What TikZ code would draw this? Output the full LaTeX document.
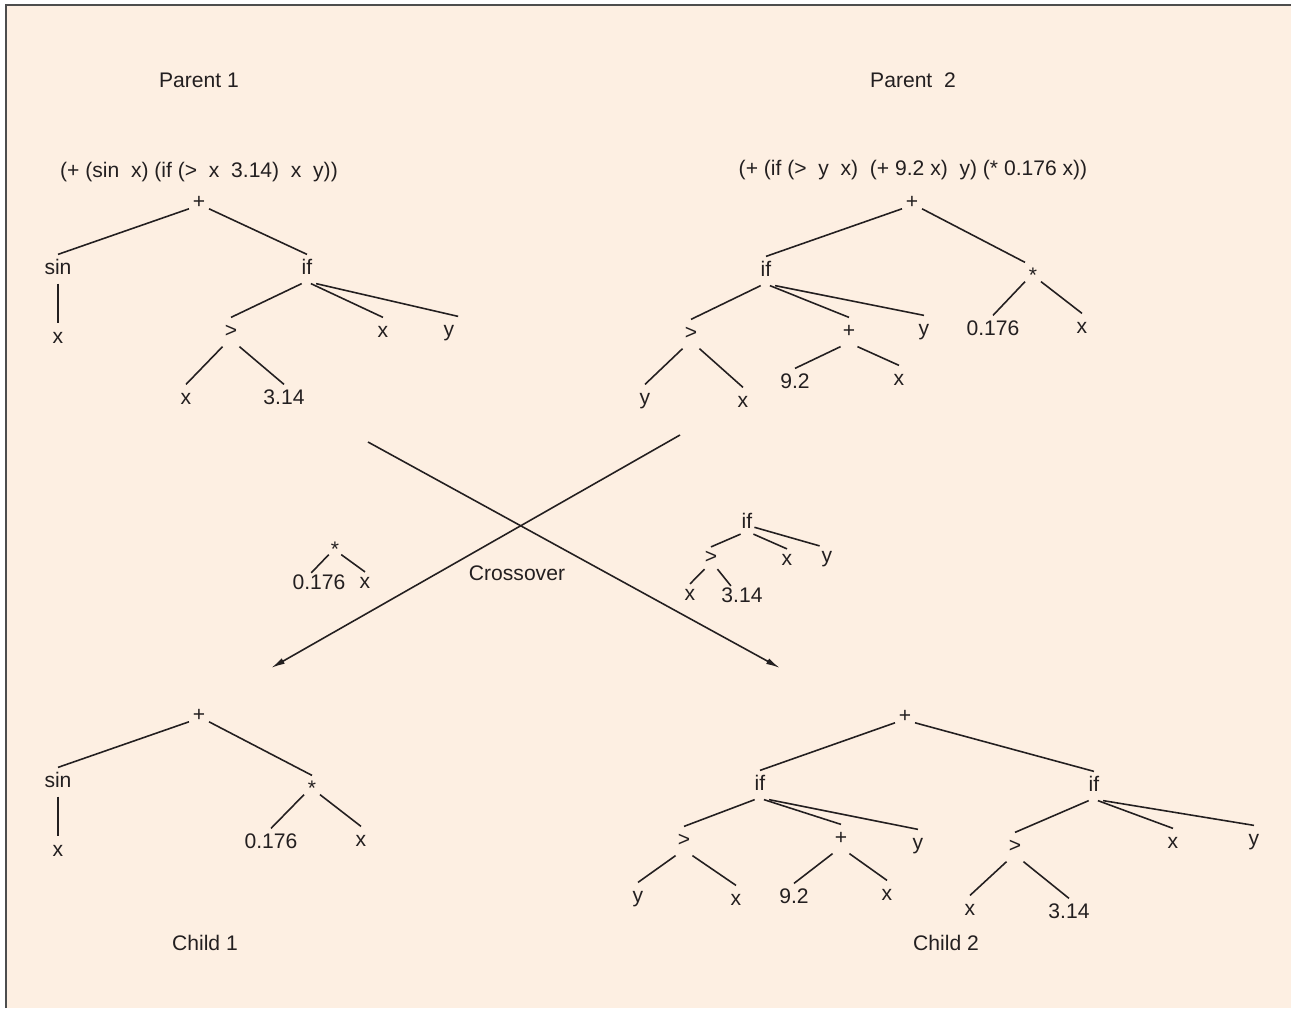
\documentclass[tikz,border=0pt]{standalone}
\usepackage{fontspec}
\setmainfont{Liberation Sans}
\usetikzlibrary{arrows.meta}

\definecolor{paper}{HTML}{FDEFE2}
\definecolor{ink}{HTML}{231F20}
\definecolor{rim}{HTML}{4D4D4D}

\tikzset{
  lbl/.style={text=ink, inner sep=0pt},
  tn/.style={text=ink, inner xsep=2pt, inner ysep=3.5pt, text height=1.5ex, text depth=.25ex},
  tns/.style={tn, inner xsep=1pt, inner ysep=1.5pt},
  br/.style={ink, line width=0.9pt},
  xo/.style={ink, line width=0.9pt, -{Latex[length=8pt,width=3.5pt]}}
}

\begin{document}
\begin{tikzpicture}[x=0.02cm, y=-0.02cm, font=\fontsize{12}{14}\selectfont]
    \useasboundingbox (0,0) rectangle (1291,1008);
    \fill[paper] (6,5) rectangle (1291,1008);
    \draw[rim, line width=1.1pt] (6,1008) -- (6,5) -- (1291,5);

    % first parent
    \node(tp1) at (199,80) [lbl] {Parent 1};
    \node(ex1) at (199,172) [lbl] {(+ (sin~ x) (if (>~ x~ 3.14)~ x~ y))};
    \node(p1p) at (199,203) [tn] {+};
    \node(p1s) at (58,269) [tn] {sin};
    \node(p1sx) at (58,338) [tn] {x};
    \node(p1if) at (307,269) [tn] {if};
    \node(p1g) at (231,332) [tn] {>};
    \node(p1gx) at (186,399) [tn] {x};
    \node(p1gc) at (284,399) [tn] {3.14};
    \node(p1x) at (383,332) [tn] {x};
    \node(p1y) at (449,331) [tn] {y};
    \draw[br] (p1p.-150) -- (p1s.north);
    \draw[br] (p1p.-30) -- (p1if.north);
    \draw[br] (p1s.south) -- (p1sx.north);
    \draw[br] (p1if.-110) -- (p1g.north);
    \draw[br] (p1if.-75) -- (p1x.north);
    \draw[br] (p1if.south east) -- (p1y.north east);
    \draw[br] (p1g.-120) -- (p1gx.north);
    \draw[br] (p1g.-60) -- (p1gc.north);

    % second parent
    \node(tp2) at (913,80) [lbl] {Parent~~2};
    \node(ex2) at (913,170) [lbl] {(+ (if (>~ y~ x)~ (+ 9.2 x)~ y) (* 0.176 x))};
    \node(p2p) at (912,203) [tn] {+};
    \node(p2if) at (766,271) [tn] {if};
    \node(p2m) at (1033,277) [tn] {*};
    \node(p2g) at (691,334) [tn] {>};
    \node(p2gy) at (645,399) [tn] {y};
    \node(p2gx) at (743,402) [tn] {x};
    \node(p2a) at (849,332) [tn] {+};
    \node(p2a9) at (795,383) [tn] {9.2};
    \node(p2ax) at (899,380) [tn] {x};
    \node(p2y) at (924,330) [tn] {y};
    \node(p2m0) at (993,330) [tn] {0.176};
    \node(p2mx) at (1082,328) [tn] {x};
    \draw[br] (p2p.-150) -- (p2if.north);
    \draw[br] (p2p.-30) -- (p2m.north west);
    \draw[br] (p2if.-110) -- (p2g.north);
    \draw[br] (p2if.-75) -- (p2a.north);
    \draw[br] (p2if.south east) -- (p2y.north);
    \draw[br] (p2g.-120) -- (p2gy.north);
    \draw[br] (p2g.-60) -- (p2gx.north);
    \draw[br] (p2a.-120) -- (p2a9.north);
    \draw[br] (p2a.-60) -- (p2ax.north);
    \draw[br] (p2m.-150) -- (p2m0.north);
    \draw[br] (p2m.-30) -- (p2mx.north);

    % swap of the two subtrees
    \coordinate(xa) at (368,442);
    \coordinate(xb) at (780,668);
    \coordinate(ya) at (680,435);
    \coordinate(yb) at (271,668);
    \draw[xo] (xa) -- (xb);
    \draw[xo] (ya) -- (yb);
    \node(xl) at (517,573) [lbl] {Crossover};

    \node(sm) at (335,551) [tns] {*};
    \node(sm0) at (319,584) [tns] {0.176};
    \node(smx) at (365,583) [tns] {x};
    \draw[br] (sm.-150) -- (sm0.125);
    \draw[br] (sm.-30) -- (smx.north);

    \node(si) at (747,523) [tns] {if};
    \node(sg) at (711,558) [tns] {>};
    \node(sgx) at (690,595) [tns] {x};
    \node(sgc) at (742,597) [tns] {3.14};
    \node(six) at (787,560) [tns] {x};
    \node(siy) at (827,557) [tns] {y};
    \draw[br] (si.-120) -- (sg.north);
    \draw[br] (si.-60) -- (six.north);
    \draw[br] (si.-30) -- (siy.north west);
    \draw[br] (sg.-120) -- (sgx.north);
    \draw[br] (sg.-60) -- (sgc.135);

    % first child
    \node(c1p) at (199,716) [tn] {+};
    \node(c1s) at (58,782) [tn] {sin};
    \node(c1sx) at (58,851) [tn] {x};
    \node(c1m) at (312,790) [tn] {*};
    \node(c1m0) at (271,843) [tn] {0.176};
    \node(c1mx) at (361,841) [tn] {x};
    \node(tc1) at (205,943) [lbl] {Child 1};
    \draw[br] (c1p.-150) -- (c1s.north);
    \draw[br] (c1p.-30) -- (c1m.north);
    \draw[br] (c1s.south) -- (c1sx.north);
    \draw[br] (c1m.-150) -- (c1m0.north);
    \draw[br] (c1m.-30) -- (c1mx.north);

    % second child
    \node(c2p) at (905,717) [tn] {+};
    \node(c2if) at (760,785) [tn] {if};
    \node(c2g) at (684,841) [tn] {>};
    \node(c2gy) at (638,897) [tn] {y};
    \node(c2gx) at (736,900) [tn] {x};
    \node(c2a) at (841,839) [tn] {+};
    \node(c2a9) at (794,898) [tn] {9.2};
    \node(c2ax) at (887,895) [tn] {x};
    \node(c2y) at (918,844) [tn] {y};
    \node(c2i2) at (1094,786) [tn] {if};
    \node(c2hg) at (1015,847) [tn] {>};
    \node(c2hgx) at (970,910) [tn] {x};
    \node(c2hgc) at (1069,913) [tn] {3.14};
    \node(c2hx) at (1173,843) [tn] {x};
    \node(c2hy) at (1254,840) [tn] {y};
    \node(tc2) at (946,943) [lbl] {Child 2};
    \draw[br] (c2p.-150) -- (c2if.north);
    \draw[br] (c2p.-30) -- (c2i2.north);
    \draw[br] (c2if.-110) -- (c2g.north);
    \draw[br] (c2if.-75) -- (c2a.north);
    \draw[br] (c2if.south east) -- (c2y.north);
    \draw[br] (c2g.-120) -- (c2gy.north);
    \draw[br] (c2g.-60) -- (c2gx.north);
    \draw[br] (c2a.-120) -- (c2a9.north);
    \draw[br] (c2a.-60) -- (c2ax.north);
    \draw[br] (c2i2.-110) -- (c2hg.north);
    \draw[br] (c2i2.-75) -- (c2hx.north);
    \draw[br] (c2i2.south east) -- (c2hy.north);
    \draw[br] (c2hg.-120) -- (c2hgx.north);
    \draw[br] (c2hg.-60) -- (c2hgc.north);
\end{tikzpicture}
\end{document}
